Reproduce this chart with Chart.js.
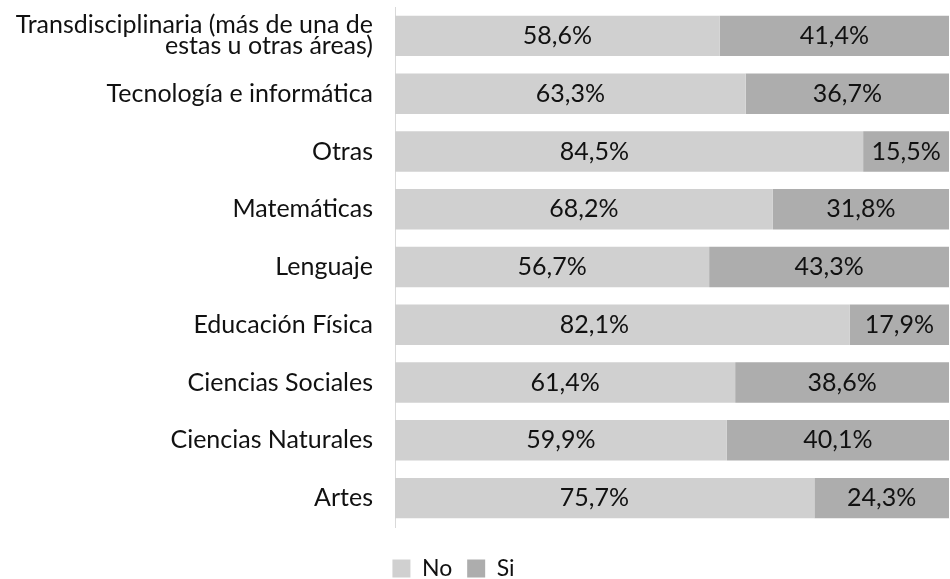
<!DOCTYPE html>
<html>
<head>
<meta charset="utf-8">
<script src="https://cdn.jsdelivr.net/npm/chart.js@4/dist/chart.umd.min.js"></script>
<style>
  html, body { margin: 0; padding: 0; background: #fff; }
  #wrap { width: 950px; height: 579px; }
</style>
</head>
<body>
<div id="wrap"><canvas id="areasChart"></canvas></div>
<script>
var categories = [
    ['Transdisciplinaria (más de una de', 'estas u otras áreas)'],
    'Tecnología e informática',
    'Otras',
    'Matemáticas',
    'Lenguaje',
    'Educación Física',
    'Ciencias Sociales',
    'Ciencias Naturales',
    'Artes'
];
var seriesNames = ['No', 'Si'];
var noValues = [58.6, 63.3, 84.5, 68.2, 56.7, 82.1, 61.4, 59.9, 75.7];
var siValues = [41.4, 36.7, 15.5, 31.8, 43.3, 17.9, 38.6, 40.1, 24.3];

var fontName = 'Lato';

// percentage labels inside the bars
var barLabels = {
    id: 'barLabels',
    afterDatasetsDraw: function (chart) {
        var ctx = chart.ctx;
        var xScale = chart.scales.x;
        ctx.save();
        ctx.font = '25px ' + fontName;
        ctx.fillStyle = '#111';
        ctx.textAlign = 'center';
        ctx.textBaseline = 'middle';
        chart.data.datasets.forEach(function (ds, i) {
            chart.getDatasetMeta(i).data.forEach(function (bar, j) {
                var mid = (bar.x + bar.base) / 2;
                if (i === 0) {
                    mid = Math.min(mid, xScale.getPixelForValue(36));
                }
                ctx.fillText(ds.data[j].toFixed(1).replace('.', ',') + '%', mid, bar.y);
            });
        });
        ctx.restore();
    }
};

// the legend sits a bit left of centre and lower in the original
var legendShift = {
    id: 'legendShift',
    afterLayout: function (chart) {
        var lg = chart.legend;
        lg.left -= 21;
        lg.right -= 21;
        lg.top += 15;
        lg.bottom += 15;
    }
};

var ctx = document.getElementById('areasChart').getContext('2d');
var chart = new Chart(ctx, {
    type: 'bar',
    data: {
        labels: categories,
        datasets: [{
            label: seriesNames[0],
            data: noValues,
            backgroundColor: '#d0d0d0',
            borderWidth: 0,
            barPercentage: 0.7,
            categoryPercentage: 1.0
        }, {
            label: seriesNames[1],
            data: siValues,
            backgroundColor: '#adadad',
            borderWidth: 0,
            barPercentage: 0.7,
            categoryPercentage: 1.0
        }]
    },
    options: {
        indexAxis: 'y',
        responsive: true,
        maintainAspectRatio: false,
        animation: false,
        layout: { padding: { top: 7, right: 1, bottom: 4, left: 0 } },
        scales: {
            x: { stacked: true, min: 0, max: 100, display: false },
            y: {
                stacked: true,
                grid: { display: false, drawTicks: false },
                border: { display: true, color: '#d9d9d9', width: 1 },
                ticks: {
                    color: '#111',
                    padding: 22,
                    autoSkip: false,
                    font: { family: fontName, size: 25, lineHeight: 0.84 }
                },
                afterFit: function (scale) {
                    scale.width = 395;
                    scale.paddingTop = 0;
                    scale.paddingBottom = 0;
                }
            }
        },
        plugins: {
            legend: {
                position: 'bottom',
                labels: {
                    boxWidth: 18,
                    boxHeight: 18,
                    padding: 15,
                    color: '#111',
                    font: { family: fontName, size: 23 }
                }
            },
            tooltip: { enabled: false }
        }
    },
    plugins: [barLabels, legendShift]
});
</script>
</body>
</html>
